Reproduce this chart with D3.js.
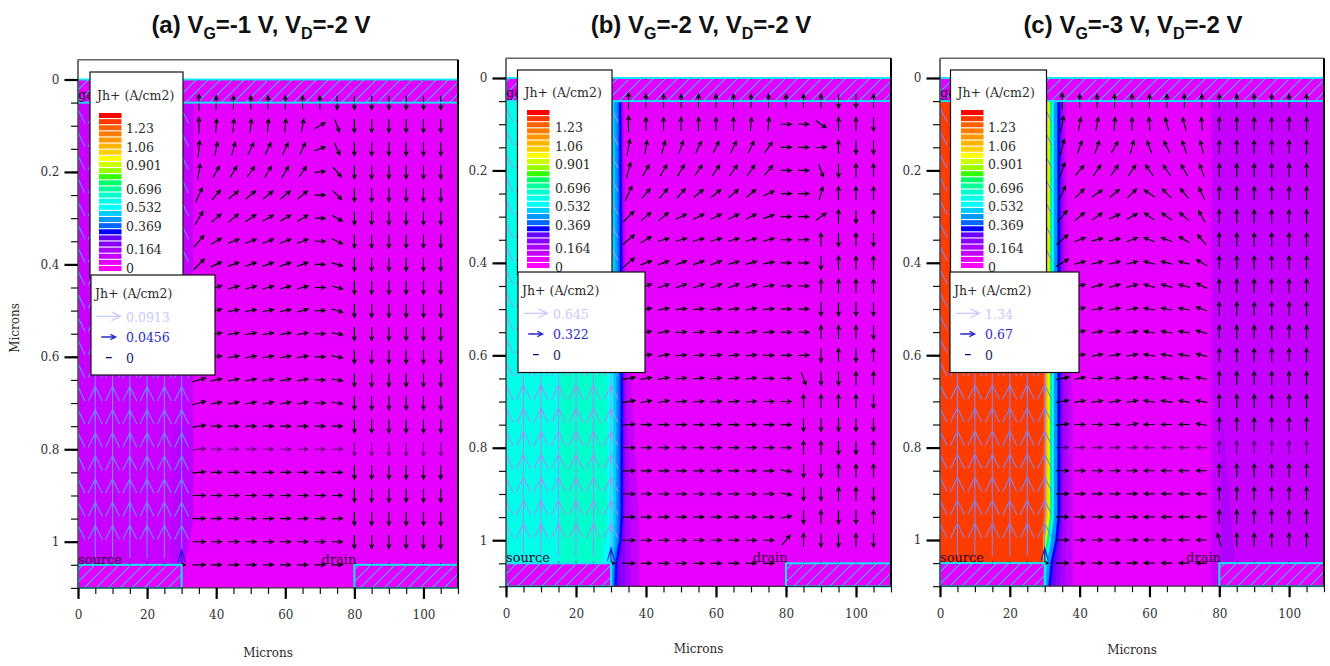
<!DOCTYPE html>
<html>
<head>
<meta charset="utf-8">
<title>Jh+ current density</title>
<script src="https://cdnjs.cloudflare.com/ajax/libs/d3/7.8.5/d3.min.js"></script>
<style>
body { margin: 0; background: #fff; }
text { font-family: "DejaVu Serif", serif; fill: #2a2a2a; }
.title { font-family: "Liberation Sans", Arial, sans-serif; font-weight: bold; font-size: 24px; fill: #111; }
.tick text { font-size: 12px; fill: #333; }
</style>
</head>
<body>
<script>
var w = 1330;
var h = 666;

// ---- data ----
var gateVolts = ["-1", "-2", "-3"];
var panelLetters = ["a", "b", "c"];

var xMajor = [0, 20, 40, 60, 80, 100];
var xMinor = d3.range(0, 111, 5);
var yMajor = [0, 0.2, 0.4, 0.6, 0.8, 1];
var yMinor = [0, 0.05, 0.1, 0.15, 0.2, 0.25, 0.3, 0.35, 0.4, 0.45, 0.5, 0.55, 0.6, 0.65, 0.7, 0.75, 0.8, 0.85, 0.9, 0.95, 1, 1.05, 1.1];

// rainbow legend, top to bottom
var legendColors = ["#ff0000", "#ff3800", "#ff6000", "#ff7c00", "#ff9800", "#ffb400", "#ffd000", "#ffff00",
  "#ccff00", "#99ff00", "#33ff00", "#00ff66", "#00ff99", "#00ffcc", "#00ffe8", "#00ffff", "#00ccff",
  "#0099ff", "#0066ff", "#0000ff", "#6600ff", "#8800ff", "#aa00ff", "#c400ff", "#e600ff", "#ff00ff"];
var legendTicks = [1.23, 1.06, 0.901, 0.696, 0.532, 0.369, 0.164, 0];

var arrowLegendA = [0.0913, 0.0456, 0];
var arrowLegendB = [0.645, 0.322, 0];
var arrowLegendC = [1.34, 0.67, 0];

var arrowCols = [35, 40, 45, 50, 55, 60, 65, 70, 75, 80, 85, 90, 95, 100, 105];
var arrowRows = [0.05, 0.1, 0.15, 0.2, 0.25, 0.3, 0.35, 0.4, 0.45, 0.5, 0.55, 0.6, 0.65, 0.7, 0.75, 0.8, 0.85, 0.9, 0.95, 1, 1.05];

// arrow direction in degrees (0 = right, 90 = up), one line per row
var anglesA = [
  [90, 90, 90, 90, 90, 90, 90, 90, -90, -90, -90, -90, -90, -90, -90],
  [90, 85, 85, 85, 85, 85, 80, 30, -70, -90, -90, -90, -90, -90, -90],
  [85, 80, 75, 65, 65, 65, 65, 20, -65, -90, -90, -90, -90, -90, -90],
  [80, 60, 60, 55, 60, 60, 55, 5, -50, -90, -90, -90, -90, -90, -90],
  [65, 50, 40, 40, 40, 40, 40, 0, -45, -90, -90, -90, -90, -90, -90],
  [60, 40, 40, 35, 30, 30, 30, 0, -30, -90, -90, -90, -90, -90, -90],
  [50, 30, 20, 20, 20, 20, 20, 0, -25, -90, -90, -90, -90, -90, -90],
  [45, 25, 20, 20, 20, 20, 20, 0, -15, -90, -90, -90, -90, -90, -90],
  [30, 20, 15, 15, 15, 15, 15, 0, -15, -90, -90, -90, -90, -90, -90],
  [25, 15, 10, 10, 10, 10, 15, 0, -15, -90, -90, -90, -90, -90, -90],
  [15, 10, 10, 10, 10, 10, 10, 0, -10, -90, -90, -90, -90, -90, -90],
  [15, 10, 10, 10, 10, 10, 10, 0, -10, -90, -90, -90, -90, -90, -90],
  [15, 10, 10, 10, 10, 10, 10, 0, -10, -90, -90, -90, -90, -90, -90],
  [15, 10, 10, 10, 10, 10, 10, 0, -8, -90, -90, -90, -90, -90, -90],
  [8, 0, 0, 0, 0, 0, 0, 0, 0, -90, -90, -90, -90, -90, -90],
  [5, 0, 0, 0, 0, 0, 0, 0, 0, -90, -90, -90, -90, -90, -90],
  [5, 0, 0, 0, 0, 0, 0, 0, 0, -90, -90, -90, -90, -90, -90],
  [0, 0, 0, 0, 0, 0, 0, 0, 0, -90, -90, -90, -90, -90, -90],
  [0, 0, 0, 0, 0, 0, 0, 0, 0, -90, -90, -90, -90, -90, -90],
  [0, 0, 0, 0, 0, 0, 0, 0, 0, -90, -90, -90, -90, -90, -90],
  [0, 0, 0, 0, 0, 0, 0, 0, 0]
];
var anglesB = [
  [90, 90, 90, 90, 90, 90, 90, 90, 90, 90, 90, 90, -90, -90, 90],
  [90, 90, 90, 90, 90, 90, 90, 85, 85, 0, 0, -35, 90, 90, -90],
  [80, 80, 75, 70, 65, 65, 65, 65, 55, 0, 0, 5, 90, -90, -90],
  [75, 60, 60, 60, 55, 55, 55, 55, 50, 0, 0, -70, -90, 90, 90],
  [65, 50, 50, 50, 40, 40, 40, 40, 25, 0, 0, 75, 90, 90, 90],
  [45, 40, 40, 25, 25, 25, 25, 25, 20, 0, 0, 35, 90, -90, 90],
  [40, 30, 15, 15, 15, 15, 15, 15, 15, 0, 0, 90, -90, 90, -90],
  [40, 20, 20, 20, 20, 20, 15, 15, 10, 0, 0, -90, 90, 90, 90],
  [30, 20, 20, 20, 20, 20, 20, 15, 10, 0, 0, 90, 90, 90, 90],
  [10, 10, 10, 5, 5, 5, 5, 10, 5, 0, 0, -90, -90, -90, -90],
  [10, 10, 10, 5, 5, 5, 5, 10, 5, 0, 0, 90, 90, 90, -90],
  [10, 10, 10, 5, 5, 5, 5, 5, 0, 0, 3, -90, 90, -90, 90],
  [10, 10, 10, 5, 5, 5, 5, 5, 0, 0, -70, -90, -90, 90, 90],
  [10, 10, 10, 5, 5, 5, 5, 5, 0, 0, 90, 90, 90, 90, -90],
  [5, 0, 0, 0, 0, 0, 0, 0, 0, 0, -90, -90, -90, -90, -90],
  [0, 0, 0, 0, 0, 0, 0, 0, 0, 0, 90, 90, -90, -90, 90],
  [0, 0, 0, 0, 0, 0, 0, 0, 0, -10, -90, -90, 90, 90, 90],
  [0, 0, 0, 0, 0, 0, 0, 0, 0, -10, -90, -90, 90, 90, -90],
  [0, 0, 0, 0, 0, 0, 0, 0, 0, 10, -90, 90, -90, -90, 90],
  [0, 0, 0, 0, 0, 0, 0, 0, 0, 50, 90, -90, -90, 90, -90],
  [0, 0, 0, 0, 0, 0, 0, 0, 0]
];
var anglesC = [
  [90, 90, 90, 90, 90, 90, 90, 90, 90, 90, 90, 90, 90, 90, 90],
  [80, 80, 80, 85, 90, 95, 105, 105, 95, 90, 90, 90, 90, 90, 90],
  [75, 70, 70, 60, 75, 110, 115, 110, 105, 90, 90, 90, 90, 90, 90],
  [70, 50, 55, 55, 55, 125, 125, 120, 110, 90, 90, 90, 90, 90, 90],
  [65, 45, 35, 40, 45, 145, 135, 130, 115, 90, 90, 90, 90, 90, 90],
  [50, 40, 35, 25, 30, 145, 145, 140, 120, 90, 90, 90, 90, 90, 90],
  [40, 20, 15, 15, 20, 160, 160, 150, 130, 90, 90, 90, 90, 90, 90],
  [30, 15, 15, 15, 15, 165, 165, 165, 150, 90, 90, 90, 90, 90, 90],
  [25, 15, 15, 15, 15, 165, 165, 165, 155, 90, 90, 90, 90, 90, 90],
  [20, 15, 10, 10, 10, 170, 170, 170, 160, 90, 90, 90, 90, 90, 90],
  [15, 15, 10, 10, 10, 170, 170, 170, 165, 90, 90, 90, 90, 90, 90],
  [15, 10, 10, 10, 10, 170, 170, 170, 165, 90, 90, 90, 90, 90, 90],
  [10, 10, 5, 5, 10, 170, 170, 170, 170, 90, 90, 90, 90, 90, 90],
  [10, 10, 10, 10, 10, 170, 170, 170, 170, 90, 90, 90, 90, 90, 90],
  [5, 0, 0, 0, 10, 180, 180, 180, 170, 90, 90, 90, 90, 90, 90],
  [0, 0, 0, 0, 0, 180, 180, 180, 180, 90, 90, 90, 90, 90, 90],
  [0, 0, 0, 0, 0, 180, 180, 180, 180, 90, 90, 90, 90, 90, 90],
  [0, 0, 0, 0, 0, 180, 180, 180, 180, 90, 90, 90, 90, 90, 90],
  [0, 0, 0, 0, 0, 180, 180, 180, 180, 90, 90, 90, 90, 90, 90],
  [0, 0, 0, 0, 0, 180, 180, 180, 180, 105, 90, 90, 90, 90, 90],
  [0, 0, 0, 0, 0, 180, 180, 180, 180]
];

// big pale arrows inside the channel under the source
var channelCols = [0, 5, 10, 15, 20, 25, 30];
var channelRows = [0.1, 0.15, 0.2, 0.25, 0.3, 0.35, 0.4, 0.45, 0.5, 0.55, 0.6, 0.65, 0.7, 0.75, 0.8, 0.85, 0.9, 0.95, 1];

// tiny stubs: the row along y=0 and the near-zero points on the contacts
var stubColsTop = [5, 10, 15, 20, 25, 30, 35, 40, 45, 50, 55, 60, 65, 70, 75, 80, 85, 90, 95, 100, 105];
var stubColsSource = [5, 10, 15, 20, 25];
var stubColsDrain = [80, 85, 90, 95, 100, 105];

// contour bands: y stops in microns, then [legend index, x of the band's right edge at each stop]
var bandStops = [0.05, 0.5, 0.7, 0.95, 1, 1.05, 1.1];
var bandsA = [
  [23, [33.3, 33.3, 33.3, 33.3, 32.4, 30.6, 30.2]],
  [22, [0, 0, 0, 32.8, 31.6, 30.4, 30.1]]
];
var bandsB = [
  [23, [33.6, 34.5, 36, 38, 38, 38, 38]],
  [22, [33.3, 33.8, 34.5, 35.5, 35.5, 35.5, 35.5]],
  [21, [33.1, 33.5, 34, 34, 34, 34, 34]],
  [20, [33, 33.4, 33.6, 33.6, 33.4, 32.6, 32.4]],
  [19, [32.9, 33.3, 33.4, 33.4, 33, 31.8, 31.6]],
  [18, [32.3, 32.6, 32.7, 32.7, 32.4, 31.2, 31]],
  [17, [31.8, 32, 32.1, 32.1, 31.9, 30.8, 30.6]],
  [16, [31, 31.3, 31.4, 31.4, 31.2, 30.4, 30.3]],
  [15, [30.2, 30.4, 30.6, 30.6, 30.4, 30.1, 30]],
  [13, [28.6, 28.6, 29, 29, 28.4, 27.4, 0]],
  [14, [15.5, 15.5, 15.5, 15.5, 15.5, 15.5, 0]]
];
var bandsC = [
  [24, [77.8, 77.8, 77.8, 77.8, 77.8, 77.8, 77.8]],
  [25, [0, 0, 0, 0, 0, 0, 0]],
  [24, [37, 38, 39, 39, 39, 39, 39]],
  [23, [36, 36.5, 38, 38, 38, 38, 38]],
  [22, [35.4, 35.6, 36.5, 36.5, 36, 36, 36]],
  [21, [35, 35, 35.2, 35.2, 35, 34.4, 34.4]],
  [20, [34.7, 34.7, 34.8, 34.8, 34.4, 33.4, 33]],
  [19, [34.4, 34.4, 34.4, 34.4, 33.7, 32.4, 31.8]],
  [17, [33.6, 33.6, 33.6, 33.6, 33, 31.6, 31]],
  [15, [32.6, 32.6, 32.6, 32.6, 31.8, 30.6, 30.3]],
  [11, [32, 32, 32, 32, 31.2, 30.1, 30]],
  [8, [31.5, 31.5, 31.5, 31.5, 30.6, 29.6, 0]],
  [6, [31, 31, 31, 31, 30, 29, 0]],
  [4, [30.5, 30.5, 30.5, 30.5, 29.3, 28, 0]],
  [2, [30, 30, 30, 30, 28.5, 26.5, 0]],
  [1, [29.6, 29.6, 29.6, 29.6, 27.6, 25, 0]]
];
// slightly darker sliver next to the drain in (c)
var wedgeCx = [80.5, 84.5, 84, 80.5];
var wedgeCy = [0.7, 1.05, 1.1, 1.1];
// darker strip next to the source in (a)
var wedgeAx = [27, 33.3, 33.3, 30.5, 27];
var wedgeAy = [0.75, 0.75, 0.95, 1.05, 1.05];

// contacts in microns: name, x0, x1, y0, y1
var contactNames = ["gate", "source", "drain"];
var contactX0 = [0, 0, 80];
var contactX1 = [110, 30, 110];
var contactY0 = [0, 1.05, 1.05];
var contactY1 = [0.05, 1.1, 1.1];

// ---- panel layouts ----
var panels = [
  { left: 78, right: 458, y0: 79.5, y1: 541.7, angles: anglesA, bands: bandsA, base: 24, leftFill: 23,
    wedgeX: wedgeAx, wedgeY: wedgeAy, wedgeFill: "#ba00ff", channelColor: "#6f8cff", faintRow: 0.8,
    legendA: arrowLegendA, box1: [90, 72, 93], barX: 99, barY: 113, barH: 158, tickX: 126, tick0: 268, tickSpan: 140,
    legTitleY: 100, box2: [91, 275, 124, 100], xLabelY: 657, title: 261 },
  { left: 506, right: 891, y0: 78, y1: 540.2, angles: anglesB, bands: bandsB, base: 24, leftFill: 15,
    channelColor: "#9a96f0", faintRow: -1,
    legendA: arrowLegendB, box1: [517.5, 70, 94.5], barX: 527, barY: 110, barH: 158, tickX: 555, tick0: 267, tickSpan: 140,
    legTitleY: 97, box2: [518, 272, 127, 100.5], xLabelY: 653, title: 701 },
  { left: 940, right: 1324, y0: 78, y1: 540, angles: anglesC, bands: bandsC, base: 24, leftFill: 1,
    wedgeX: wedgeCx, wedgeY: wedgeCy, wedgeFill: "#ae00ff", channelColor: "#8a80e6", faintRow: 0.8,
    legendA: arrowLegendC, box1: [950.5, 70, 96], barX: 961, barY: 110, barH: 158, tickX: 988, tick0: 267, tickSpan: 140,
    legTitleY: 97, box2: [950, 272, 129, 100.5], xLabelY: 654, title: 1133 }
];

var svg = d3.select("body").append("svg")
  .attr("width", w)
  .attr("height", h)
  .style("display", "block");

var defs = svg.append("defs");
var hatch = defs.append("pattern")
  .attr("id", "hatch")
  .attr("patternUnits", "userSpaceOnUse")
  .attr("width", 12)
  .attr("height", 12);
hatch.append("rect").attr("width", 12).attr("height", 12).attr("fill", "#e200ff");
hatch.append("path")
  .attr("d", "M-3,3L3,-3M0,12L12,0M9,15L15,9")
  .attr("stroke", "#4ab4ee")
  .attr("stroke-width", 1.1);

// small arrow centred on a grid point
function arrowPath(cx, cy, len, deg, headLen, headSpread) {
  var a = -deg * Math.PI / 180;
  var tipX = cx + Math.cos(a) * len / 2;
  var tipY = cy + Math.sin(a) * len / 2;
  var tailX = cx - Math.cos(a) * len / 2;
  var tailY = cy - Math.sin(a) * len / 2;
  var s = headSpread * Math.PI / 180;
  var b1x = tipX - Math.cos(a + s) * headLen;
  var b1y = tipY - Math.sin(a + s) * headLen;
  var b2x = tipX - Math.cos(a - s) * headLen;
  var b2y = tipY - Math.sin(a - s) * headLen;
  return "M" + tailX + "," + tailY + "L" + tipX + "," + tipY +
    "M" + b1x + "," + b1y + "L" + tipX + "," + tipY + "L" + b2x + "," + b2y;
}

panels.forEach(function(p, pi) {
  var x = d3.scaleLinear().domain([0, 110]).range([p.left, p.right]);
  var pxPerMicron = p.y1 - p.y0;
  var y = d3.scaleLinear().domain([-0.043, 1.1]).range([p.y0 - 0.043 * pxPerMicron, p.y0 + 1.1 * pxPerMicron]);

  var g = svg.append("g");

  defs.append("clipPath").attr("id", "clip" + pi).append("rect")
    .attr("x", x(0)).attr("y", y(0))
    .attr("width", x(110) - x(0)).attr("height", y(1.1) - y(0));

  var field = g.append("g").attr("clip-path", "url(#clip" + pi + ")");

  // contour bands, painted from the outermost to the innermost
  field.append("rect")
    .attr("x", x(0)).attr("y", y(0))
    .attr("width", x(110) - x(0)).attr("height", y(1.1) - y(0))
    .attr("fill", legendColors[p.base]);

  var area = d3.area()
    .x0(x(0))
    .x1(function(d) { return x(d[0]); })
    .y(function(d) { return y(d[1]); })
    .curve(d3.curveLinear);

  // (c) has a wider zone on the drain side: x from 77.8 to the right edge
  p.bands.forEach(function(b, i) {
    var pts = b[1].map(function(v, k) { return [v, bandStops[k]]; });
    if (pi === 2 && i === 0) {
      field.append("rect")
        .attr("x", x(b[1][0])).attr("y", y(0))
        .attr("width", x(110) - x(b[1][0])).attr("height", y(1.1) - y(0))
        .attr("fill", "#c600ff");
      return;
    }
    if (pi === 2 && i === 1) return;
    field.append("path")
      .attr("d", area(pts))
      .attr("fill", legendColors[b[0]]);
  });

  // top of the field, left of the first stop, takes the left colour
  field.append("rect")
    .attr("x", x(0)).attr("y", y(0.05))
    .attr("width", pi === 0 ? x(30) - x(0) : pi === 1 ? x(15.5) - x(0) : x(29.6) - x(0))
    .attr("height", y(1.05) - y(0.05))
    .attr("fill", pi === 1 ? legendColors[14] : pi === 2 ? "#ff3c00" : "#c800ff");

  if (p.wedgeX) {
    var wedge = d3.line().x(function(d) { return x(d[0]); }).y(function(d) { return y(d[1]); });
    field.append("path")
      .attr("d", wedge(p.wedgeX.map(function(v, k) { return [v, p.wedgeY[k]]; })) + "Z")
      .attr("fill", p.wedgeFill);
  }

  // pale channel arrows
  var channel = [];
  channelRows.forEach(function(r) {
    channelCols.forEach(function(c) { channel.push([c, r]); });
  });
  field.append("g").selectAll("path")
    .data(channel)
    .enter()
    .append("path")
    .attr("d", function(d) { return arrowPath(x(d[0]), y(d[1]), 33, 90, 16, 26); })
    .attr("fill", "none")
    .attr("stroke", p.channelColor)
    .attr("stroke-width", 1.1);

  // contacts, hatched
  var contactIdx = d3.range(contactNames.length);
  field.append("g").selectAll("rect")
    .data(contactIdx)
    .enter()
    .append("rect")
    .attr("x", function(i) { return x(contactX0[i]); })
    .attr("y", function(i) { return y(contactY0[i]); })
    .attr("width", function(i) { return x(contactX1[i]) - x(contactX0[i]); })
    .attr("height", function(i) { return y(contactY1[i]) - y(contactY0[i]); })
    .attr("fill", "url(#hatch)");

  // black vectors
  var vectors = [];
  p.angles.forEach(function(row, ri) {
    row.forEach(function(deg, ci) {
      vectors.push({ col: arrowCols[ci], row: arrowRows[ri], deg: deg, first: ci === 0 });
    });
  });
  field.append("g").selectAll("path")
    .data(vectors)
    .enter()
    .append("path")
    .attr("d", function(d) {
      var sin = Math.abs(Math.sin(d.deg * Math.PI / 180));
      var len = (10.5 + 3 * sin) * (d.first ? 1.2 : 1);
      return arrowPath(x(d.col), y(d.row), len, d.deg, 4.5, 26);
    })
    .attr("fill", "none")
    .attr("stroke", "#000")
    .attr("stroke-width", 1.15)
    .attr("opacity", function(d) { return d.row === p.faintRow ? 0.55 : 1; });

  // stubs
  var stubs = [];
  stubColsTop.forEach(function(c) { stubs.push([c, 0]); });
  stubColsSource.forEach(function(c) { stubs.push([c, 1.05]); });
  stubColsDrain.forEach(function(c) { stubs.push([c, 1.05]); });
  field.append("g").selectAll("path")
    .data(stubs)
    .enter()
    .append("path")
    .attr("d", function(d) { return arrowPath(x(d[0]), y(d[1]), 3, 90, 1, 30); })
    .attr("fill", "none")
    .attr("stroke", "#111")
    .attr("stroke-width", 1);

  // the vector leaving the source corner
  field.append("path")
    .attr("d", arrowPath(x(30), y(1.05), 30, 90, 13, 16))
    .attr("fill", "none")
    .attr("stroke", "#1a1ae0")
    .attr("stroke-width", 1.1);
  field.append("path")
    .attr("d", arrowPath(x(30), y(1.05), 7, 0, 4, 26))
    .attr("fill", "none")
    .attr("stroke", "#000")
    .attr("stroke-width", 1.1);

  // contact borders
  g.append("g").selectAll("rect")
    .data(contactIdx)
    .enter()
    .append("rect")
    .attr("x", function(i) { return x(contactX0[i]); })
    .attr("y", function(i) { return y(contactY0[i]); })
    .attr("width", function(i) { return x(contactX1[i]) - x(contactX0[i]); })
    .attr("height", function(i) { return y(contactY1[i]) - y(contactY0[i]); })
    .attr("fill", "none")
    .attr("stroke", "#15e6f2")
    .attr("stroke-width", 2);

  // contact names
  g.append("g").selectAll("text")
    .data(contactIdx)
    .enter()
    .append("text")
    .attr("x", function(i) { return i === 2 ? x(70.5) : x(0); })
    .attr("y", function(i) { return i === 0 ? y(0) + 19 : y(1.05) - 1; })
    .style("font-size", "13px")
    .style("fill", "#3a0030")
    .text(function(i) { return contactNames[i]; });

  // frame
  g.append("line").attr("x1", x(0)).attr("x2", x(110)).attr("y1", y(-0.043)).attr("y2", y(-0.043))
    .attr("stroke", "#666").attr("stroke-width", 1.5);
  g.append("line").attr("x1", x(110)).attr("x2", x(110)).attr("y1", y(-0.043)).attr("y2", y(1.1))
    .attr("stroke", "#000").attr("stroke-width", 2);
  g.append("line").attr("x1", x(0)).attr("x2", x(0)).attr("y1", y(-0.043)).attr("y2", y(1.1))
    .attr("stroke", "#444").attr("stroke-width", 1.5);
  g.append("line").attr("x1", x(0)).attr("x2", x(110)).attr("y1", y(1.1)).attr("y2", y(1.1))
    .attr("stroke", "#333").attr("stroke-width", 1.2);

  // axes
  var xMinorAxis = d3.axisBottom(x).tickValues(xMinor).tickSize(6).tickSizeOuter(0).tickFormat("");
  var xMajorAxis = d3.axisBottom(x).tickValues(xMajor).tickSize(11).tickSizeOuter(0).tickPadding(12).tickFormat(d3.format("d"));
  var yMinorAxis = d3.axisLeft(y).tickValues(yMinor).tickSize(7).tickSizeOuter(0).tickFormat("");
  var yMajorAxis = d3.axisLeft(y).tickValues(yMajor).tickSize(13.5).tickSizeOuter(0).tickPadding(5)
    .tickFormat(function(d) { return d; });

  var ax = g.append("g");
  var xg1 = ax.append("g").attr("transform", "translate(0," + y(1.1) + ")").call(xMinorAxis);
  var xg2 = ax.append("g").attr("transform", "translate(0," + y(1.1) + ")").call(xMajorAxis);
  var yg1 = ax.append("g").attr("transform", "translate(" + x(0) + ",0)").call(yMinorAxis);
  var yg2 = ax.append("g").attr("transform", "translate(" + x(0) + ",0)").call(yMajorAxis);
  [xg1, xg2, yg1, yg2].forEach(function(a) { a.select(".domain").remove(); });
  xg1.selectAll("line").attr("stroke", "#111").attr("stroke-width", 1.2);
  yg1.selectAll("line").attr("stroke", "#111").attr("stroke-width", 1.2);
  xg2.selectAll("line").attr("stroke", "#000").attr("stroke-width", 2.2);
  yg2.selectAll("line").attr("stroke", "#000").attr("stroke-width", 2.2);

  g.append("text")
    .attr("x", (x(0) + x(110)) / 2)
    .attr("y", p.xLabelY)
    .attr("text-anchor", "middle")
    .style("font-size", "12px")
    .text("Microns");

  // colour legend
  var box1H = p.box2[1] - p.box1[1] + 3;
  g.append("rect")
    .attr("x", p.box1[0]).attr("y", p.box1[1])
    .attr("width", p.box1[2]).attr("height", box1H)
    .attr("fill", "#fff").attr("stroke", "#111").attr("stroke-width", 1.2);
  g.append("text")
    .attr("x", p.box1[0] + 7).attr("y", p.legTitleY)
    .style("font-size", "12.5px")
    .text("Jh+ (A/cm2)");

  var barScale = d3.scaleBand()
    .domain(d3.range(legendColors.length))
    .range([p.barY, p.barY + p.barH])
    .paddingInner(0.18);
  g.append("g").selectAll("rect")
    .data(legendColors)
    .enter()
    .append("rect")
    .attr("x", p.barX)
    .attr("y", function(d, i) { return barScale(i); })
    .attr("width", 22.5)
    .attr("height", barScale.bandwidth())
    .attr("fill", function(d) { return d; });

  var tickY = d3.scaleLinear().domain([0, 1.23]).range([p.tick0, p.tick0 - p.tickSpan]);
  g.append("g").selectAll("text")
    .data(legendTicks)
    .enter()
    .append("text")
    .attr("x", p.tickX)
    .attr("y", function(d) { return tickY(d); })
    .attr("dy", "0.38em")
    .style("font-size", "12.5px")
    .text(function(d) { return d; });

  // vector legend
  g.append("rect")
    .attr("x", p.box2[0]).attr("y", p.box2[1])
    .attr("width", p.box2[2]).attr("height", p.box2[3])
    .attr("fill", "#fff").attr("stroke", "#111").attr("stroke-width", 1.2);
  g.append("text")
    .attr("x", p.box2[0] + 4).attr("y", p.box2[1] + 23)
    .style("font-size", "12.5px")
    .text("Jh+ (A/cm2)");

  var arrowColors = ["#c9c9ff", "#2a2ad0", "#000070"];
  var textColors = ["#c9c9ff", "#2a2ad0", "#222260"];
  var lenScale = d3.scaleLinear().domain([0, p.legendA[0]]).range([5, 24]);
  var rowY = d3.scaleBand().domain(d3.range(3)).range([p.box2[1] + 31, p.box2[1] + 93]);
  var rowsG = g.append("g").selectAll("g")
    .data(p.legendA)
    .enter()
    .append("g");
  rowsG.append("path")
    .attr("d", function(d, i) {
      var cy = rowY(i) + rowY.bandwidth() / 2;
      return arrowPath(p.box2[0] + 17.5, cy, lenScale(d), 0, i === 0 ? 10 : i === 1 ? 6 : 0.1, 26);
    })
    .attr("fill", "none")
    .attr("stroke", function(d, i) { return arrowColors[i]; })
    .attr("stroke-width", 1.3);
  rowsG.append("text")
    .attr("x", p.box2[0] + 35)
    .attr("y", function(d, i) { return rowY(i) + rowY.bandwidth() / 2; })
    .attr("dy", "0.42em")
    .style("font-size", "12.5px")
    .style("fill", function(d, i) { return textColors[i]; })
    .text(function(d) { return d; });

  // panel title with subscripts
  var title = svg.append("text")
    .attr("class", "title")
    .attr("x", p.title)
    .attr("y", 33)
    .attr("text-anchor", "middle");
  title.append("tspan").text("(" + panelLetters[pi] + ") V");
  title.append("tspan").attr("dy", 6).style("font-size", "16px").text("G");
  title.append("tspan").attr("dy", -6).text("=" + gateVolts[pi] + " V, V");
  title.append("tspan").attr("dy", 6).style("font-size", "16px").text("D");
  title.append("tspan").attr("dy", -6).text("=-2 V");
});

svg.append("text")
  .attr("transform", "translate(19,328) rotate(-90)")
  .attr("text-anchor", "middle")
  .style("font-size", "12px")
  .text("Microns");
</script>
</body>
</html>
